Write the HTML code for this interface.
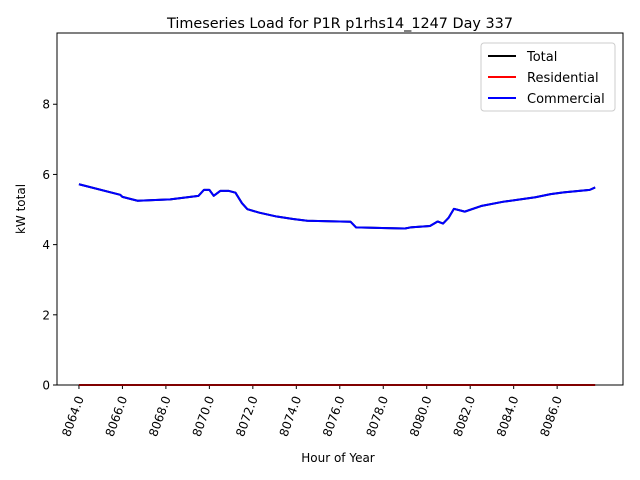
<!DOCTYPE html>
<html><head><meta charset="utf-8"><style>
body{margin:0;background:#fff;}
svg{display:block;font-family:"DejaVu Sans","Liberation Sans",sans-serif;}
</style></head><body>
<svg id="chart" width="640" height="480" viewBox="0 0 640 480">
<rect width="640" height="480" fill="#fff"/>
<text x="340" y="28" font-size="14.4" text-anchor="middle">Timeseries Load for P1R p1rhs14_1247  Day 337</text>
<g id="plot"></g>
<text x="338" y="462" font-size="12" text-anchor="middle">Hour of Year</text>
<text transform="translate(25,209) rotate(-90)" font-size="12" text-anchor="middle">kW total</text>
<g>
<rect x="481" y="43" width="134" height="68" rx="3" fill="#fff" stroke="#ccc"/>
<line x1="488" y1="56" x2="516" y2="56" stroke="#000" stroke-width="2"/>
<text x="527" y="61" font-size="13">Total</text>
<line x1="488" y1="77" x2="516" y2="77" stroke="#f00" stroke-width="2"/>
<text x="527" y="82" font-size="13">Residential</text>
<line x1="488" y1="98" x2="516" y2="98" stroke="#00f" stroke-width="2"/>
<text x="527" y="103" font-size="13">Commercial</text>
</g>
</svg>
<script>
const hours=[8064,8065.9,8066.0,8066.7,8068.2,8069.5,8069.75,8070.0,8070.2,8070.5,8070.9,8071.2,8071.5,8071.75,8072.3,8073.1,8073.85,8074.5,8076.5,8076.75,8079.0,8079.25,8080.15,8080.5,8080.75,8081.0,8081.25,8081.75,8082.5,8083.5,8085.0,8085.7,8086.3,8087.5,8087.75];
const commercial=[5.72,5.42,5.36,5.25,5.29,5.39,5.56,5.56,5.39,5.53,5.53,5.48,5.18,5.01,4.91,4.80,4.73,4.68,4.65,4.49,4.46,4.49,4.53,4.66,4.60,4.76,5.02,4.94,5.10,5.22,5.35,5.44,5.49,5.56,5.63];
const residential=hours.map(()=>0);
const total=commercial.slice();
const xTicks=[8064,8066,8068,8070,8072,8074,8076,8078,8080,8082,8084,8086];
const yTicks=[0,2,4,6,8];
const L=57,R=623,T=33,B=385,X0=8062.99,X1=8089.03,Y0=0,Y1=10.03;
const sx=v=>L+(v-X0)/(X1-X0)*(R-L);
const sy=v=>B-(v-Y0)/(Y1-Y0)*(B-T);
const NS='http://www.w3.org/2000/svg';
const g=document.getElementById('plot');
function mk(t,a){const e=document.createElementNS(NS,t);for(const k in a)e.setAttribute(k,a[k]);g.appendChild(e);return e;}
xTicks.forEach(v=>{
 const x=sx(v);
 const t=mk('line',{x1:x,y1:B,x2:x,y2:B+4,stroke:'#000'});
 
 
 const l=mk('text',{transform:`translate(${x+5},${B+13}) rotate(-70)`,'font-size':12,'text-anchor':'end'});
 l.textContent=v.toFixed(1);
 
 
});
yTicks.forEach(v=>{
 const y=sy(v);
 const t=mk('line',{x1:L-4,y1:y,x2:L,y2:y,stroke:'#000'});
 
 
 const l=mk('text',{x:L-7,y:y+4.5,'font-size':12,'text-anchor':'end'});
 l.textContent=v;
 
 
});
function series(vals,color,name){
 const p=mk('polyline',{points:hours.map((h,i)=>sx(h)+','+sy(vals[i])).join(' '),fill:'none',stroke:color,'stroke-width':2,'stroke-linejoin':'round'});
 
 
}
series(total,'#000','total-line');
series(residential,'#f00','residential-line');
series(commercial,'#00f','commercial-line');
const fr=mk('rect',{x:L,y:T,width:R-L,height:B-T,fill:'none',stroke:'#000'});


</script>
</body></html>
